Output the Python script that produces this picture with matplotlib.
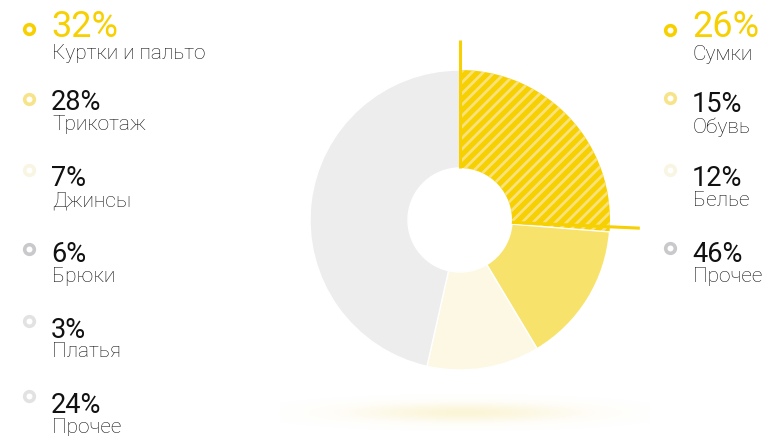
import numpy as np
import matplotlib
matplotlib.use("Agg")
import matplotlib.pyplot as plt

# Donut data (right legend)
donut_labels = ["Сумки", "Обувь", "Белье", "Прочее"]
donut_values = [26, 15, 12, 46]
donut_colors = ["#F6D000", "#F7E36B", "#FDF8E3", "#EDEDED"]
donut_marker = ["#F6D000", "#F7E38A", "#F8F5E2", "#C9C9CC"]

# Left legend
left_labels = ["Куртки и пальто", "Трикотаж", "Джинсы", "Брюки", "Платья", "Прочее"]
left_values = [32, 28, 7, 6, 3, 24]
left_marker = ["#F6D000", "#F7E38A", "#F8F5E2", "#C9C9CC", "#E2E2E2", "#E2E2E2"]

W, H = 772, 436
plt.rcParams["font.family"] = ["Roboto", "DejaVu Sans"]
plt.rcParams["hatch.linewidth"] = 2.0

fig = plt.figure(figsize=(W / 100, H / 100), dpi=100)
ax = fig.add_axes([0, 0, 1, 1])

cx, cy = 460, H - 220
R, r_in = 150, 52

wedges, _ = ax.pie(donut_values, colors=donut_colors, startangle=90, counterclock=False,
                   radius=R, center=(cx, cy), frame=True,
                   wedgeprops=dict(width=R - r_in, edgecolor="white", linewidth=1))

# hatched highlight segment
wedges[0].set_edgecolor("#F9E27C")
wedges[0].set_linewidth(0)
wedges[0].set_hatch("///")

# yellow edge lines of highlighted segment
a0 = np.deg2rad(90)
a1 = np.deg2rad(90 - 360 * donut_values[0] / 100 + 1)
for a in (a0, a1):
    ax.plot([cx + r_in * np.cos(a), cx + 180 * np.cos(a)],
            [cy + r_in * np.sin(a), cy + 180 * np.sin(a)],
            color="#F6D000", lw=2.2, solid_capstyle="butt", zorder=5)

# soft shadow under the donut
xs = np.linspace(280, 650, 400)
ys = np.linspace(H - 436, H - 385, 80)
X, Y = np.meshgrid(xs, ys)
g = np.exp(-(((X - 465) / 105) ** 2 + ((Y - (H - 413)) / 9) ** 2))
img = np.zeros(X.shape + (4,))
img[..., :3] = matplotlib.colors.to_rgb("#F3DD7A")
img[..., 3] = 0.3 * g
ax.imshow(img, extent=(xs[0], xs[-1], ys[0], ys[-1]), origin="lower", zorder=0, aspect="auto")


def legend_item(x, y, ly, my, value, label, color, big):
    ax.scatter([x - 23], [H - my], s=48, marker="o", facecolor="white",
               edgecolor=color, linewidth=2.6, zorder=6)
    ax.text(x - 1, H - y, f"{value}%", fontsize=26 if big else 19.5,
            color="#F6D000" if big else "#111111", va="center_baseline", ha="left")
    ax.text(x, H - ly, label, fontsize=15, color="#111111", va="center_baseline",
            ha="left", fontweight="light")


left_y = [23, 100, 176, 251, 327, 402]
left_ly = [52, 123, 199, 274, 349, 425]
left_my = [29, 99, 170, 249, 321, 396]
for i in range(len(left_labels)):
    legend_item(52, left_y[i], left_ly[i], left_my[i], left_values[i], left_labels[i],
                left_marker[i], i == 0)

right_y = [23, 101, 176, 252]
right_ly = [53, 125, 199, 275]
right_my = [30, 98, 170, 248]
for i in range(len(donut_labels)):
    legend_item(693, right_y[i], right_ly[i], right_my[i], donut_values[i], donut_labels[i],
                donut_marker[i], i == 0)

ax.set_xlim(0, W)
ax.set_ylim(0, H)
ax.set_aspect("auto")
ax.axis("off")

fig.savefig("out.png", dpi=100)
